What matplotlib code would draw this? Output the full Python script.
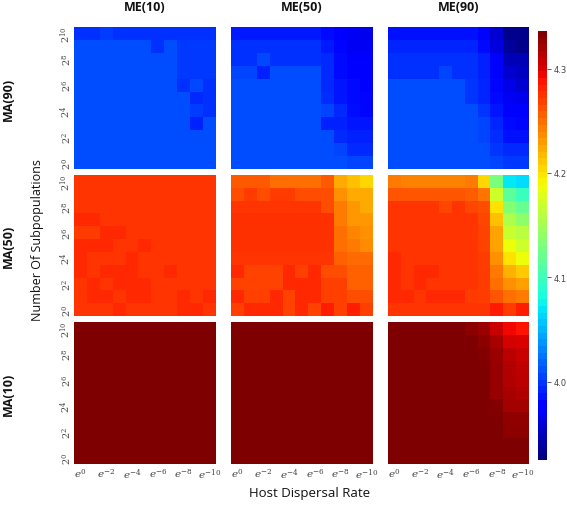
import matplotlib
matplotlib.use("Agg")
import matplotlib.pyplot as plt
import numpy as np

b = 4.008
d = 4.281
m = 4.275
top = 4.336

ma90_me10 = [
    [3.996, 3.996, 4.002, 3.996, 3.996, 3.996, 3.996, 3.996, 3.996, 3.996, 3.996],
    [b, b, b, b, b, b, 3.996, b, 4.0, 4.0, 4.0],
    [b, b, b, b, b, b, b, b, 4.0, 4.0, 4.0],
    [b, b, b, b, b, b, b, b, 4.0, 4.0, 4.0],
    [b, b, b, b, b, b, b, b, 3.996, 4.006, 3.996],
    [b, b, b, b, b, b, b, b, b, 3.993, 3.996],
    [b, b, b, b, b, b, b, b, b, 4.002, 3.996],
    [b, b, b, b, b, b, b, b, b, 3.99, b],
    [b] * 11,
    [b] * 11,
    [b] * 11,
]
ma90_me50 = [
    [3.987, 3.987, 3.987, 3.987, 3.987, 3.987, 3.987, 3.981, 3.975, 3.968, 3.965],
    [3.997, 3.997, 3.997, 3.997, 3.997, 3.997, 3.997, 3.987, 3.978, 3.968, 3.968],
    [3.997, 3.997, 4.006, 3.997, 3.997, 3.997, 3.997, 3.994, 3.98, 3.972, 3.972],
    [4.004, 4.004, 3.99, b, b, b, b, 3.994, 3.98, 3.975, 3.975],
    [b, b, b, b, b, b, b, 3.994, 3.985, 3.98, 3.972],
    [b, b, b, b, b, b, b, 3.995, 3.985, 3.98, 3.978],
    [b, b, b, b, b, b, b, 4.004, 3.994, 3.982, 3.978],
    [b, b, b, b, b, b, b, 3.99, 3.99, 3.985, 3.985],
    [b, b, b, b, b, b, b, b, 3.994, 3.99, 3.99],
    [b, b, b, b, b, b, b, b, 4.004, 3.994, 3.994],
    [b, b, b, b, b, b, b, b, b, 4.004, 4.004],
]
ma90_me90 = [
    [3.984, 3.984, 3.984, 3.984, 3.984, 3.984, 3.984, 3.972, 3.955, 3.93, 3.93],
    [3.992, 3.992, 3.992, 3.992, 3.992, 3.992, 3.992, 3.98, 3.96, 3.935, 3.93],
    [3.997, 3.997, 3.997, 3.997, 3.997, 3.997, 3.997, 3.99, 3.97, 3.945, 3.945],
    [3.997, 3.997, 3.997, 3.997, 4.004, 3.997, 3.997, 3.99, 3.975, 3.955, 3.95],
    [b, b, b, b, b, b, 3.998, 3.992, 3.978, 3.962, 3.955],
    [b, b, b, b, b, b, 3.998, 3.992, 3.98, 3.968, 3.965],
    [b, b, b, b, b, b, b, 3.998, 3.985, 3.975, 3.972],
    [b, b, b, b, b, b, b, 4.004, 3.992, 3.98, 3.978],
    [b, b, b, b, b, b, b, 4.004, 3.995, 3.983, 3.983],
    [b, b, b, b, b, b, b, b, 3.998, 3.994, 3.994],
    [b, b, b, b, b, b, b, b, 4.004, 4.0, 4.0],
]
ma50_me10 = [
    [m] * 11,
    [m] * 11,
    [m] * 11,
    [d, d, m, m, m, m, m, m, m, m, m],
    [4.272, 4.272, d, d, m, m, m, m, m, m, m],
    [d, d, d, m, m, d, m, m, m, m, m],
    [d, m, m, m, d, m, m, m, m, m, m],
    [d, m, d, d, d, m, m, d, m, m, m],
    [m, d, m, d, d, d, m, m, m, m, m],
    [m, d, d, m, d, d, m, m, d, m, d],
    [m, m, m, d, m, m, m, m, d, d, m],
]
ma50_me50 = [
    [4.26, 4.26, 4.26, 4.25, 4.25, 4.25, 4.25, 4.26, 4.225, 4.215, 4.205],
    [4.264, 4.272, 4.264, 4.272, 4.272, 4.264, 4.264, 4.264, 4.235, 4.225, 4.225],
    [m, m, m, m, m, m, m, 4.264, 4.245, 4.232, 4.225],
    [4.278, 4.278, 4.278, 4.278, 4.278, 4.278, 4.278, 4.278, 4.245, 4.232, 4.232],
    [4.278, 4.278, 4.278, 4.278, 4.278, 4.278, 4.278, 4.278, 4.25, 4.24, 4.235],
    [4.278, 4.278, 4.278, 4.278, 4.278, 4.278, 4.278, 4.278, 4.25, 4.245, 4.238],
    [m, m, m, m, m, m, m, m, 4.257, 4.252, 4.252],
    [d, 4.27, 4.27, 4.27, d, 4.271, d, 4.265, 4.265, 4.257, 4.257],
    [4.27, 4.27, 4.27, 4.27, d, d, d, 4.271, 4.271, 4.257, 4.257],
    [d, 4.271, 4.271, d, 4.27, d, d, 4.271, 4.271, 4.264, 4.264],
    [4.271, d, d, d, 4.27, d, 4.27, 4.285, 4.271, 4.285, 4.271],
]
ma50_me90 = [
    [4.245, 4.242, 4.242, 4.242, 4.242, 4.242, 4.245, 4.205, 4.13, 4.07, 4.065],
    [4.262, 4.262, 4.262, 4.262, 4.262, 4.262, 4.258, 4.248, 4.172, 4.115, 4.098],
    [m, m, m, m, 4.267, m, 4.267, 4.264, 4.2, 4.135, 4.12],
    [m, m, m, m, m, m, m, 4.268, 4.215, 4.155, 4.14],
    [m, m, m, m, m, m, m, 4.27, 4.228, 4.168, 4.16],
    [m, m, m, m, m, m, m, 4.27, 4.228, 4.188, 4.172],
    [d, m, m, m, m, m, m, 4.272, 4.235, 4.2, 4.188],
    [d, m, d, d, m, m, m, 4.272, 4.245, 4.222, 4.21],
    [d, m, d, m, m, m, m, 4.272, 4.25, 4.235, 4.23],
    [d, d, m, d, d, d, 4.272, 4.272, 4.262, 4.25, 4.245],
    [m, m, m, m, m, m, m, m, 4.287, 4.272, 4.285],
]
ma10_me10 = [[top] * 11 for i in range(11)]
ma10_me50 = [[top] * 11 for i in range(11)]
ma10_me90 = [
    [top, top, top, top, top, top, 4.33, 4.325, 4.31, 4.295, 4.29],
    [top, top, top, top, top, top, top, 4.33, 4.32, 4.305, 4.303],
    [top, top, top, top, top, top, top, 4.334, 4.325, 4.315, 4.31],
    [top, top, top, top, top, top, top, top, 4.327, 4.317, 4.313],
    [top, top, top, top, top, top, top, top, 4.327, 4.318, 4.315],
    [top, top, top, top, top, top, top, top, 4.327, 4.32, 4.318],
    [top, top, top, top, top, top, top, top, 4.333, 4.322, 4.322],
    [top, top, top, top, top, top, top, top, top, 4.328, 4.328],
    [top, top, top, top, top, top, top, top, top, 4.33, 4.33],
    [top, top, top, top, top, top, top, top, top, 4.335, 4.335],
    [top] * 11,
]

panels = [[ma90_me10, ma90_me50, ma90_me90],
          [ma50_me10, ma50_me50, ma50_me90],
          [ma10_me10, ma10_me50, ma10_me90]]
col_titles = ["ME(10)", "ME(50)", "ME(90)"]
row_titles = ["MA(90)", "MA(50)", "MA(10)"]
x_ticklabels = ["$e^{0}$", "$e^{-2}$", "$e^{-4}$", "$e^{-6}$", "$e^{-8}$", "$e^{-10}$"]
y_ticklabels = ["$2^{0}$", "$2^{2}$", "$2^{4}$", "$2^{6}$", "$2^{8}$", "$2^{10}$"]
cbar_ticks = [4.0, 4.1, 4.2, 4.3]
vmin, vmax = 3.925, 4.336

W, H = 567, 506
plt.rcParams["mathtext.fontset"] = "dejavuserif"
fig = plt.figure(figsize=(W / 100, H / 100), dpi=100)


def add_px_axes(x0, y0, x1, y1):
    return fig.add_axes([x0 / W, 1 - y1 / H, (x1 - x0) / W, (y1 - y0) / H])


xs = [(74, 216), (231, 373), (388, 529)]
ys = [(28, 170), (176, 317), (323, 465)]
grey = "#444444"

for r in range(3):
    for c in range(3):
        ax = add_px_axes(xs[c][0], ys[r][0], xs[c][1], ys[r][1])
        ax.imshow(np.array(panels[r][c]), cmap="jet", vmin=vmin, vmax=vmax,
                  interpolation="nearest", aspect="auto")
        for s in ax.spines.values():
            s.set_visible(False)
        ax.tick_params(length=0)
        ax.set_xticks([])
        ax.set_yticks([])
        if r == 2:
            ax.set_xticks(np.arange(0, 11, 2))
            ax.set_xticklabels(x_ticklabels, fontsize=7.5, color=grey)
            ax.tick_params(axis="x", pad=2)
        if c == 0:
            ax.set_yticks(np.arange(10, -1, -2))
            ax.set_yticklabels(y_ticklabels, fontsize=7, color=grey,
                               rotation=90, va="center")
            ax.tick_params(axis="y", pad=0.5)
        if r == 0:
            fig.text((xs[c][0] + xs[c][1]) / 2 / W, 1 - 7.5 / H, col_titles[c],
                     family="Open Sans", fontsize=9, fontweight="bold",
                     ha="center", va="center", color="#111111")
    fig.text(8 / W, 1 - (ys[r][0] + ys[r][1]) / 2 / H, row_titles[r],
             family="Open Sans", fontsize=9, fontweight="bold", rotation=90,
             ha="center", va="center", color="#111111")

fig.text(38 / W, 1 - 240 / H, "Number Of Subpopulations", family="Open Sans",
         fontsize=9, rotation=90, ha="center", va="center", color="#111111")
fig.text(310 / W, 1 - 494 / H, "Host Dispersal Rate", family="Open Sans",
         fontsize=9.5, ha="center", va="center", color="#111111")

cax = add_px_axes(538, 32, 547, 461)
sm = plt.cm.ScalarMappable(norm=plt.Normalize(vmin, vmax), cmap=plt.get_cmap("jet", 64))
cb = fig.colorbar(sm, cax=cax)
cb.set_ticks(cbar_ticks)
cb.set_ticklabels(["4.0", "4.1", "4.2", "4.3"])
cb.ax.tick_params(length=3, width=0.6, labelsize=6, labelcolor=grey, color=grey, pad=2)
cb.outline.set_visible(False)

fig.savefig("out.png", dpi=100)
